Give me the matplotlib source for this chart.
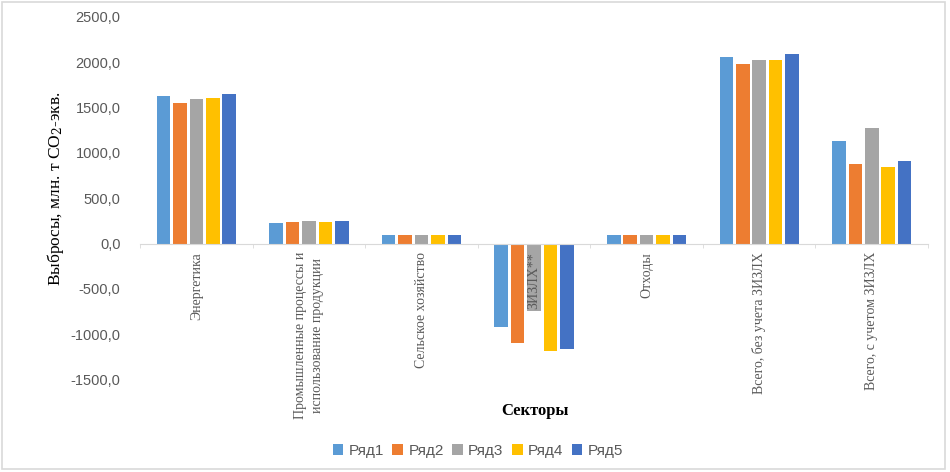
import matplotlib
matplotlib.use("Agg")
import matplotlib.pyplot as plt
import numpy as np
from matplotlib.patches import Rectangle

categories = ["Энергетика", "Промышленные процессы и\nиспользование продукции",
              "Сельское хозяйство", "ЗИЗЛХ**", "Отходы",
              "Всего, без учета ЗИЗЛХ", "Всего, с учетом ЗИЗЛХ"]
series_names = ["Ряд1", "Ряд2", "Ряд3", "Ряд4", "Ряд5"]
ryad1 = [1628, 230, 95, -925, 95, 2055, 1128]
ryad2 = [1547, 236, 95, -1100, 95, 1978, 877]
ryad3 = [1592, 246, 95, -745, 95, 2029, 1275]
ryad4 = [1603, 237, 95, -1190, 95, 2022, 841]
ryad5 = [1647, 246, 95, -1165, 95, 2088, 911]
series = [ryad1, ryad2, ryad3, ryad4, ryad5]
colors = ["#5B9BD5", "#ED7D31", "#A5A5A5", "#FFC000", "#4472C4"]
yticks = [-1500, -1000, -500, 0, 500, 1000, 1500, 2000, 2500]

fig = plt.figure(figsize=(9.5, 4.72), dpi=100)
ax = fig.add_axes([0.1474, 0.196, 0.8295, 0.768])

x = np.arange(len(categories))
slot = 0.146
bw = 0.12
for i, (vals, c) in enumerate(zip(series, colors)):
    ax.bar(x + (i - 2) * slot, vals, width=bw, color=c, label=series_names[i], zorder=1)

ax.set_xlim(-0.5, len(categories) - 0.5)
ax.set_ylim(-1500, 2500)
ax.set_yticks(yticks)
ax.set_yticklabels([f"{v:.1f}".replace(".", ",") for v in yticks],
                   fontfamily="Liberation Sans", fontsize=10.5, color="#595959")
ax.tick_params(axis="y", length=0, pad=14)

for s in ["top", "right", "left"]:
    ax.spines[s].set_visible(False)
ax.spines["bottom"].set_position(("data", 0))
ax.spines["bottom"].set_color("#D9D9D9")
ax.set_xticks(x)
ax.set_xticklabels(categories, rotation=90, fontfamily="Liberation Serif",
                   fontsize=10, color="#595959", va="top", ha="center",
                   linespacing=1.45)
ax.tick_params(axis="x", which="major", length=0, pad=6)
ax.set_xticks(np.arange(-0.5, len(categories) + 0.5, 1), minor=True)
ax.tick_params(axis="x", which="minor", length=3, color="#D9D9D9")

fig.text(0.058, 0.60, "Выбросы, млн. т CO$_2$-экв.", rotation=90,
         fontfamily="Liberation Serif", fontsize=12.5, ha="center", va="center",
         math_fontfamily="dejavuserif")
fig.text(0.563, 0.130, "Секторы", fontfamily="Liberation Serif", fontsize=12,
         fontweight="bold", ha="center", va="center")

leg = fig.legend(loc="center", bbox_to_anchor=(0.503, 0.045), ncol=5, frameon=False,
                 prop={"family": "Liberation Sans", "size": 11},
                 handlelength=0.7, handleheight=0.7, handletextpad=0.35,
                 columnspacing=0.55)
for t in leg.get_texts():
    t.set_color("#595959")

fig.patches.append(Rectangle((0.002, 0.006), 0.993, 0.99, transform=fig.transFigure,
                             fill=False, edgecolor="#D9D9D9", linewidth=1.2))

fig.savefig("out.png", dpi=100)
